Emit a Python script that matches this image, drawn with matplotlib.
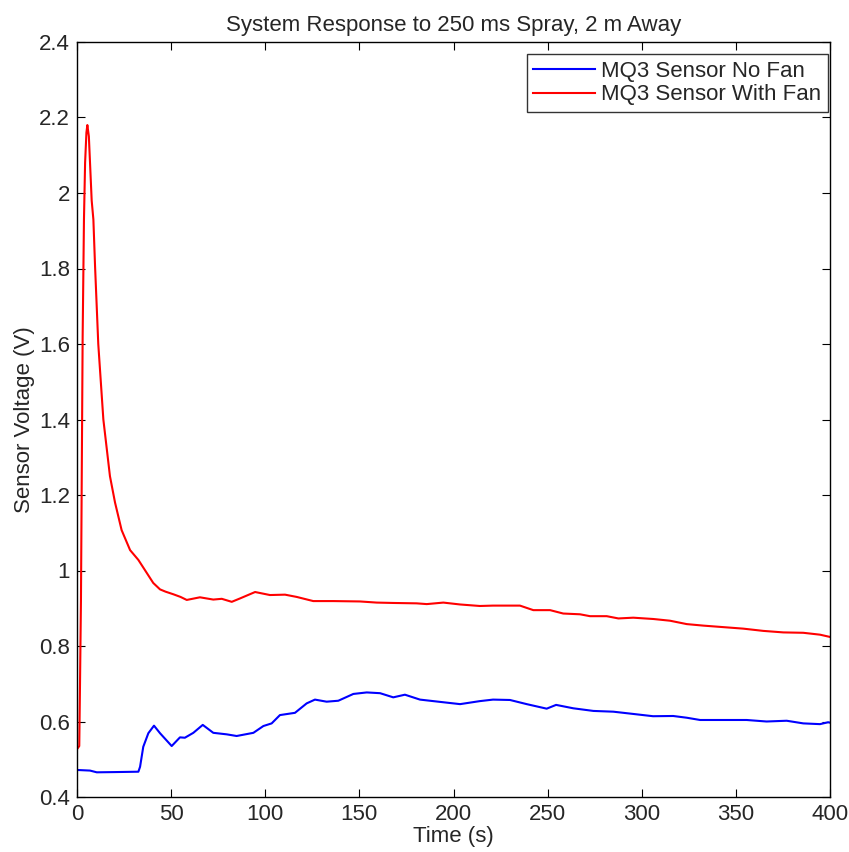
import matplotlib
matplotlib.use("Agg")
import matplotlib.pyplot as plt

plt.rcParams['font.family'] = ['Liberation Sans', 'DejaVu Sans']

# Red: MQ3 sensor with fan
t_fan = [0.5, 1.2, 1.6, 2.1, 3.0, 3.7, 4.3, 5.0, 5.5, 6.3, 7.8, 8.7, 9.6, 11.3, 14.0, 17.5, 20.2,
         23.7, 28.2, 32.6, 36.1, 40.5, 44.1, 47.0, 51.2, 55.0, 58.3, 65.3, 72.4, 76.9, 82.2, 86.6,
         94.6, 102.5, 110.5, 116.7, 125.5, 136.2, 150.3, 159.2, 168.0, 180.4, 185.8, 194.6,
         203.5, 214.0, 221.0, 235.3, 242.4, 251.3, 258.3, 267.2, 272.5, 281.4, 287.6, 295.5,
         306.2, 315.0, 323.9, 332.7, 343.3, 353.9, 364.6, 375.2, 385.8, 394.7, 399.1, 400.0]
v_fan = [0.53, 0.535, 0.70, 0.92, 1.62, 1.93, 2.08, 2.16, 2.18, 2.15, 1.98, 1.93, 1.805, 1.60,
         1.40, 1.25, 1.18, 1.107, 1.054, 1.028, 1.001, 0.967, 0.950, 0.944, 0.937, 0.93, 0.922,
         0.929, 0.923, 0.925, 0.917, 0.926, 0.943, 0.935, 0.936, 0.930, 0.919, 0.919, 0.918,
         0.915, 0.914, 0.913, 0.911, 0.915, 0.910, 0.906, 0.907, 0.907, 0.895, 0.895, 0.886,
         0.884, 0.879, 0.879, 0.873, 0.875, 0.8715, 0.867, 0.858, 0.854, 0.850, 0.846, 0.840,
         0.836, 0.835, 0.830, 0.825, 0.824]

# Blue: MQ3 sensor no fan
t_nofan = [0.5, 6.9, 10.5, 20.0, 32.6, 33.5, 35.2, 37.9, 40.9, 44.1, 50.3, 54.7, 57.3, 61.8,
           66.8, 72.4, 79.5, 84.8, 93.7, 99.0, 103.4, 107.8, 115.8, 122.0, 126.4, 132.6, 138.8,
           146.8, 153.9, 161.0, 168.0, 174.2, 182.2, 192.8, 203.5, 214.0, 221.0, 230.0, 238.9,
           249.5, 254.5, 263.6, 274.3, 284.9, 295.5, 306.0, 316.7, 323.9, 331.0, 343.0, 355.7,
           366.3, 377.0, 385.8, 394.7, 399.0, 400.0]
v_nofan = [0.4715, 0.470, 0.4654, 0.466, 0.467, 0.48, 0.533, 0.569, 0.589, 0.569, 0.535, 0.558,
           0.557, 0.570, 0.591, 0.570, 0.566, 0.5616, 0.570, 0.588, 0.595, 0.617, 0.623, 0.648,
           0.658, 0.6525, 0.655, 0.673, 0.677, 0.675, 0.664, 0.671, 0.658, 0.652, 0.646, 0.654,
           0.658, 0.657, 0.646, 0.634, 0.644, 0.635, 0.628, 0.626, 0.620, 0.614, 0.6146, 0.610,
           0.604, 0.604, 0.604, 0.600, 0.602, 0.595, 0.593, 0.598, 0.597]

x_ticks = [0, 50, 100, 150, 200, 250, 300, 350, 400]
y_ticks = [0.4, 0.6, 0.8, 1.0, 1.2, 1.4, 1.6, 1.8, 2.0, 2.2, 2.4]
y_tick_labels = ['0.4', '0.6', '0.8', '1', '1.2', '1.4', '1.6', '1.8', '2', '2.2', '2.4']

FS = 16
TXT = '#262626'

fig = plt.figure(figsize=(8.49, 8.52), dpi=100)
ax = fig.add_axes([77/849, 1-797/852, (830-77)/849, (797-42)/852])

ax.plot(t_nofan, v_nofan, color='#0000ff', lw=1.5, label='MQ3 Sensor No Fan')
ax.plot(t_fan, v_fan, color='#ff0000', lw=1.5, label='MQ3 Sensor With Fan')

ax.set_xlim(0, 400)
ax.set_ylim(0.4, 2.4)
ax.set_xticks(x_ticks)
ax.set_yticks(y_ticks)
ax.set_yticklabels(y_tick_labels)
ax.tick_params(direction='in', top=True, right=True, length=6, width=0.8,
               labelsize=FS, color='black', labelcolor=TXT, pad=5)
for s in ax.spines.values():
    s.set_linewidth(1.0)

ax.set_xlabel('Time (s)', fontsize=FS, labelpad=1, color=TXT)
ax.set_ylabel('Sensor Voltage (V)', fontsize=FS, labelpad=3, color=TXT)
ax.set_title('System Response to 250 ms Spray, 2 m Away', fontsize=FS, pad=8, color=TXT)

leg = ax.legend(loc='upper right', bbox_to_anchor=(828/849, 1-54/852),
                bbox_transform=fig.transFigure, fontsize=FS, frameon=True,
                fancybox=False, edgecolor='black', borderpad=0.3, handlelength=2.75,
                handletextpad=0.3, labelspacing=0.12, borderaxespad=0)
leg.get_frame().set_linewidth(1.0)
for t in leg.get_texts():
    t.set_color(TXT)

fig.savefig('out.png', dpi=100)
